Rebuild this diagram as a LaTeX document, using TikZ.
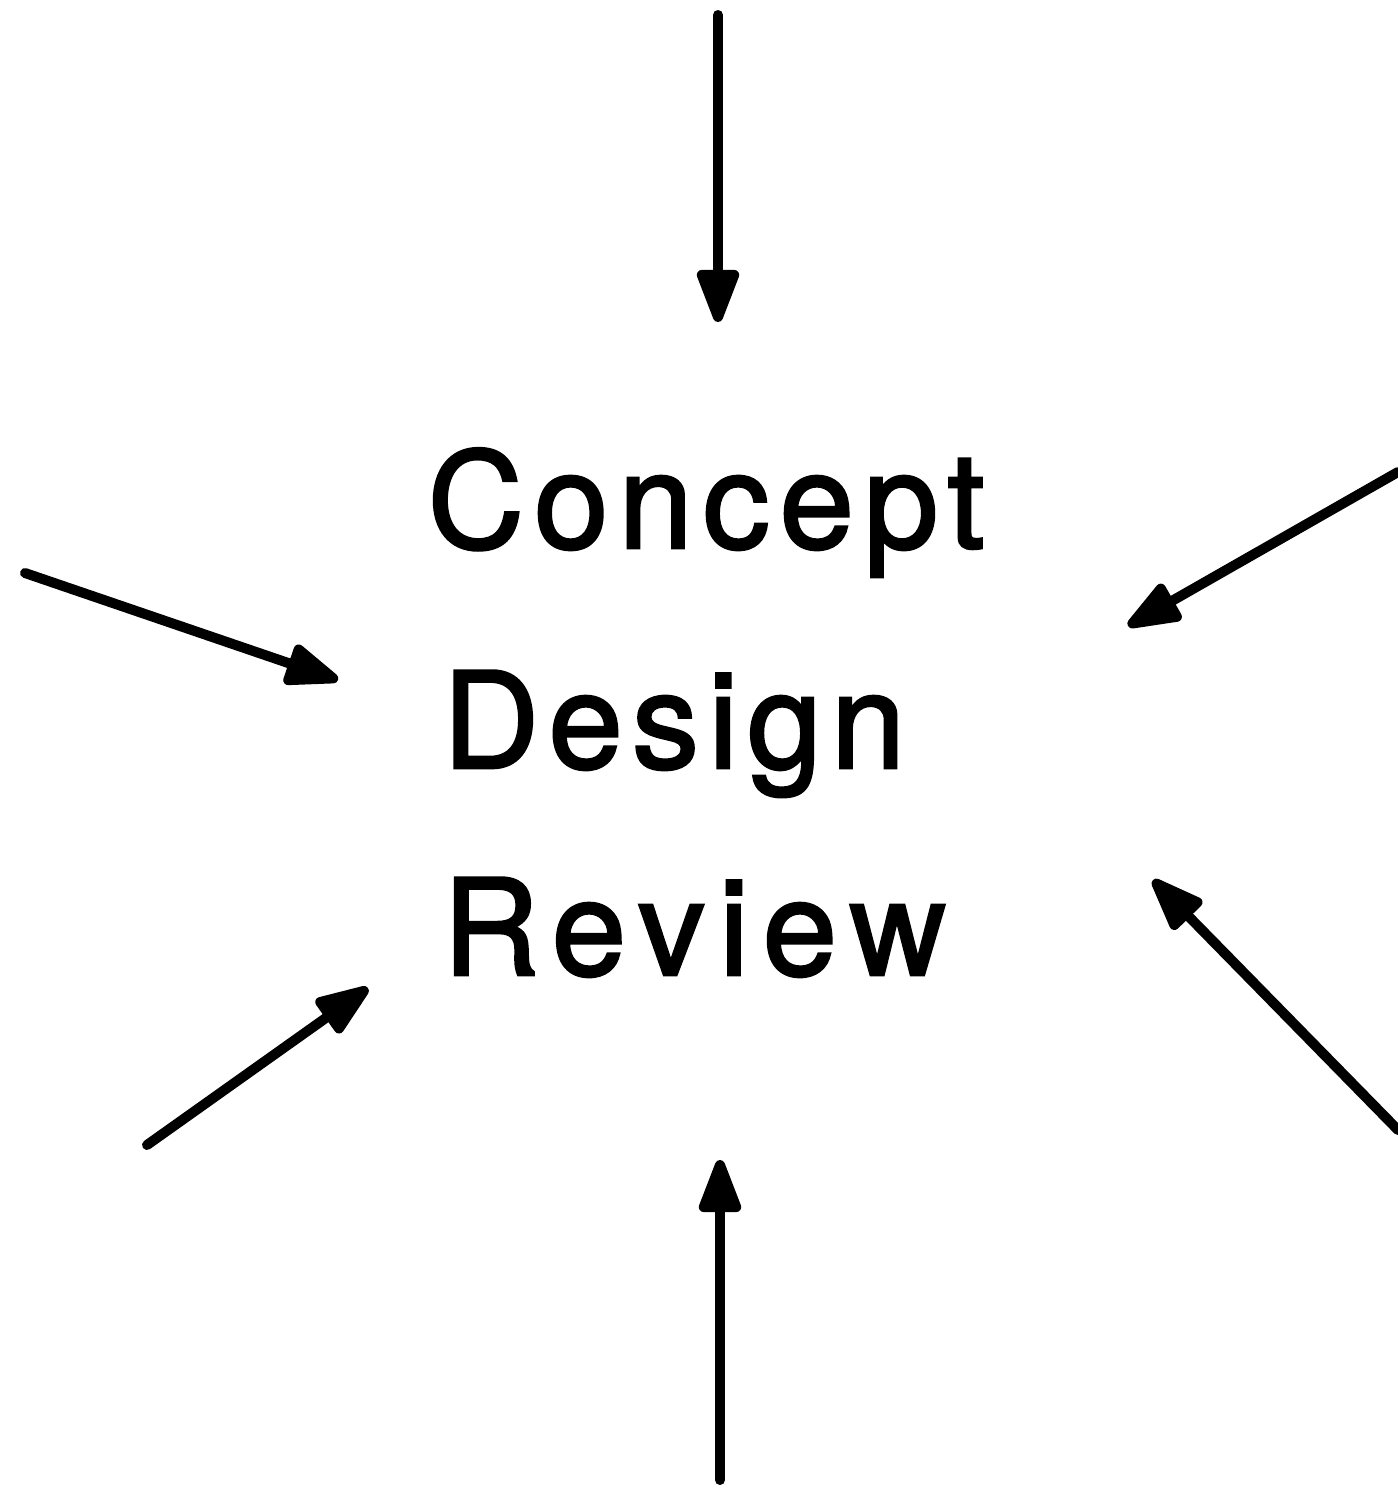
\documentclass[tikz,border=0pt]{standalone}
\usepackage{fontspec}
\setmainfont{TeX Gyre Heros}[LetterSpace=8, FakeBold=2]
\usetikzlibrary{arrows.meta}
\tikzset{
  inarrow/.style={line width=0.1cm, line cap=round,
    -{Triangle[length=0.62cm, width=0.44cm, round]}},
  word/.style={anchor=base west, inner sep=0pt, font=\fontsize{38pt}{38pt}\selectfont},
  spacing/.style={execute at begin node={\addfontfeatures{LetterSpace=#1}}}
}
\begin{document}
\begin{tikzpicture}[x=0.01cm, y=-0.01cm]
  \useasboundingbox (0,0) rectangle (1398,1490);
  % title, three lines
  \node[word, spacing=7.5] (concept) at (427,548) {Concept};
  \node[word, spacing=7] (design) at (442,768) {Design};
  \node[word, spacing=10.5] (review) at (442,975) {Review};
  % arrow ends around the title
  \coordinate (nS) at (718,15);   \coordinate (nT) at (718,322);
  \coordinate (wS) at (25,573);   \coordinate (wT) at (338,680);
  \coordinate (swS) at (147,1145); \coordinate (swT) at (368,988);
  \coordinate (sS) at (720,1480); \coordinate (sT) at (720,1160);
  \coordinate (seS) at (1398,1130); \coordinate (seT) at (1153,880);
  \coordinate (neS) at (1398,472); \coordinate (neT) at (1128,626);
  \draw[inarrow] (nS) -- (nT);
  \draw[inarrow] (wS) -- (wT);
  \draw[inarrow] (swS) -- (swT);
  \draw[inarrow] (sS) -- (sT);
  \draw[inarrow] (seS) -- (seT);
  \draw[inarrow] (neS) -- (neT);
\end{tikzpicture}
\end{document}
